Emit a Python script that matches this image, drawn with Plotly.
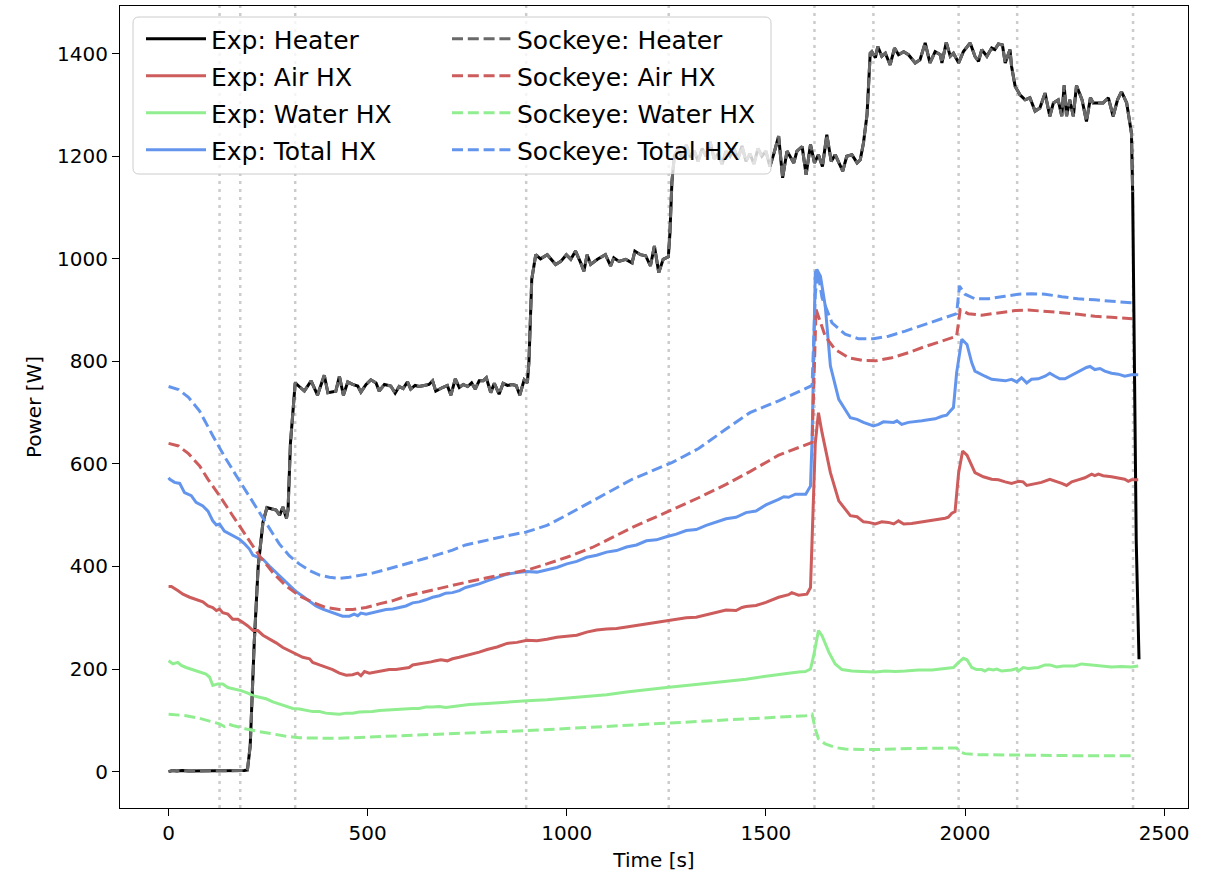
import plotly.graph_objects as go

# ---------------- data ----------------
exp_heater_t = [0, 10, 20, 35, 50, 70, 90, 110, 130, 150, 170, 190, 198, 205, 215, 225, 237, 247, 260, 270, 279, 287, 296, 300, 306, 312,
                318, 328, 341, 358, 374, 391, 400, 420, 429, 439, 450, 462, 475, 483, 496, 508, 521, 529, 542, 558, 569, 579, 589, 600,
                608, 619, 629, 642, 654, 663, 671, 688, 700, 709, 720, 730, 740, 751, 761, 770, 780, 790, 798, 809, 818, 830, 840, 851,
                863, 873, 882, 893, 901, 905, 912, 922, 934, 951, 972, 985, 999, 1010, 1022, 1035, 1043, 1051, 1060, 1077, 1097, 1110,
                1118, 1131, 1148, 1164, 1171, 1185, 1198, 1210, 1220, 1231, 1242, 1255, 1259, 1264, 1270,
                1280, 1290, 1300, 1310, 1320, 1330, 1340, 1350, 1360, 1370, 1380, 1390, 1400, 1410, 1420, 1430, 1440, 1450, 1460, 1470,
                1480, 1490, 1500, 1510, 1520, 1532, 1542, 1553, 1570, 1578, 1591, 1601, 1612, 1622, 1632, 1642, 1653, 1664, 1674, 1693,
                1703, 1716, 1729, 1737, 1745, 1754, 1762, 1766, 1775, 1781, 1791, 1800, 1812, 1823, 1833, 1846, 1858, 1875, 1887, 1900,
                1912, 1925, 1938, 1942, 1953, 1963, 1971, 1984, 1996, 2013, 2025, 2034, 2042, 2055, 2067, 2075, 2084, 2094, 2101, 2113,
                2117, 2126, 2138, 2151, 2163, 2176, 2188, 2201, 2213, 2222, 2234, 2243, 2249, 2255, 2263, 2272, 2280, 2294, 2305, 2315,
                2322, 2335, 2347, 2360, 2372, 2383, 2393, 2406, 2414, 2418, 2421, 2425, 2430, 2437]
exp_heater_p = [0, 2, 1, 2, 1, 1, 1, 2, 2, 1, 2, 2, 3, 50, 250, 400, 486, 515, 512, 510, 500, 516, 494, 510, 640, 700,
                758, 751, 742, 762, 734, 773, 739, 742, 771, 734, 760, 755, 752, 740, 755, 764, 758, 742, 755, 752, 738, 751, 747, 760,
                746, 753, 751, 753, 755, 762, 742, 749, 753, 734, 766, 749, 755, 751, 758, 746, 762, 762, 768, 739, 757, 736, 757, 753,
                755, 753, 734, 764, 758, 800, 960, 1008, 1000, 1008, 989, 995, 1008, 999, 1015, 992, 976, 1008, 989, 999, 1008, 986,
                1002, 995, 999, 992, 1015, 1008, 1006, 986, 1025, 973, 999, 1004, 1050, 1150, 1200,
                1215, 1195, 1222, 1198, 1210, 1190, 1215, 1200, 1228, 1195, 1205, 1185, 1210, 1200, 1215, 1195, 1220, 1190, 1205, 1185,
                1215, 1200, 1210, 1180, 1205, 1239, 1158, 1210, 1187, 1210, 1219, 1164, 1223, 1187, 1203, 1180, 1242, 1190, 1203, 1171,
                1200, 1203, 1187, 1193, 1226, 1281, 1401, 1404, 1392, 1414, 1395, 1401, 1378, 1411, 1398, 1404, 1398, 1382, 1388, 1421,
                1382, 1404, 1398, 1382, 1422, 1395, 1401, 1382, 1404, 1421, 1395, 1385, 1408, 1395, 1411, 1408, 1419, 1417, 1382, 1408,
                1375, 1336, 1320, 1310, 1314, 1288, 1294, 1323, 1278, 1304, 1310, 1278, 1338, 1278, 1310, 1278, 1338, 1310, 1268, 1314,
                1304, 1304, 1304, 1314, 1278, 1310, 1326, 1304, 1268, 1245, 1130, 800, 450, 219]

exp_air_t = [0, 7, 23, 36, 53, 69, 86, 99, 111, 120, 128, 136, 149, 161, 174, 186, 199, 212, 224, 237, 253, 270, 287, 303, 320,
             337, 354, 362, 379, 395, 412, 429, 446, 462, 475, 483, 492, 504, 521, 537, 554, 571, 588, 604, 613, 629, 646, 659, 671,
             684, 700, 713, 730, 746, 755, 780, 800, 825, 850, 875, 900, 925, 950, 975, 1000, 1025, 1050, 1075, 1100, 1125, 1150,
             1175, 1200, 1225, 1250, 1275, 1300, 1325, 1350, 1375, 1400, 1425, 1440, 1450, 1475, 1500,
             1532, 1557, 1565, 1582, 1603, 1612, 1616, 1624, 1632, 1641, 1662, 1683, 1712, 1729, 1745, 1758, 1775, 1791, 1808, 1821,
             1833, 1846, 1866, 1883, 1900, 1917, 1933, 1950, 1958, 1967, 1975, 1984, 1994, 2005, 2025, 2046, 2067, 2084, 2101, 2117,
             2134, 2146, 2155, 2167, 2192, 2213, 2226, 2243, 2255, 2268, 2284, 2301, 2318, 2326, 2335, 2347, 2368, 2385, 2401, 2410,
             2418, 2435]
exp_air_p = [361, 361, 353, 346, 340, 335, 331, 323, 320, 314, 317, 310, 307, 297, 297, 291, 284, 275, 275, 266, 259, 251, 242, 236, 229,
             223, 220, 213, 208, 203, 199, 192, 188, 189, 192, 187, 195, 192, 194, 197, 199, 199, 201, 203, 208, 210, 211, 214, 216,
             218, 216, 220, 223, 226, 229, 233, 238, 243, 250, 252, 256, 255, 258, 262, 264, 266, 272, 276, 278, 279, 282,
             285, 288, 290, 293, 297, 300, 301, 306, 310, 315, 314, 320, 322, 324, 330,
             340, 345, 349, 344, 346, 359, 453, 640, 700, 661, 583, 528, 499, 497, 487, 486, 483, 487, 486, 483,
             489, 483, 484, 486, 487, 489, 492, 494, 496, 504, 507, 583, 625, 617, 583, 575, 570, 569, 565, 562,
             566, 565, 558, 560, 564, 570, 567, 562, 558, 565, 569, 573, 580, 577, 580, 577, 575, 573, 570, 566,
             569, 569]

exp_water_t = [0, 11, 23, 32, 44, 57, 78, 94, 103, 111, 124, 136, 149, 166, 182, 199, 212, 228, 245, 262, 278, 295, 312, 329, 345,
               362, 379, 395, 412, 429, 446, 462, 479, 496, 512, 529, 546, 563, 579, 596, 613, 629, 646, 663, 680, 696, 713, 730, 746,
               755, 800, 850, 900, 950, 1000, 1050, 1100, 1150, 1200, 1250, 1300, 1350, 1400, 1450, 1500, 1532, 1557, 1582, 1599,
               1612, 1620, 1632, 1641, 1658, 1674, 1691, 1716, 1741, 1775, 1800, 1825, 1850, 1883, 1917, 1950, 1971, 1984, 1996, 2005,
               2017, 2029, 2042, 2050, 2059, 2071, 2080, 2092, 2117, 2130, 2134, 2146, 2159, 2184, 2201, 2213, 2230, 2247, 2276, 2293,
               2318, 2343, 2368, 2393, 2418, 2435]
exp_water_p = [216, 210, 213, 207, 203, 200, 194, 190, 184, 168, 171, 171, 164, 161, 158, 153, 148, 145, 142, 136, 132, 127, 123, 122, 119,
               117, 117, 114, 113, 112, 114, 114, 116, 116, 117, 119, 120, 121, 122, 122, 123, 123, 126, 126, 127, 125, 127, 129, 131,
               131, 133, 136, 138, 140, 143, 147, 150, 155, 160, 164, 168, 172, 176, 180, 186, 190, 192, 194, 195,
               200, 226, 275, 265, 233, 210, 199, 196, 195, 194, 196, 195, 196, 198, 198, 201, 203, 213, 221, 218,
               203, 199, 199, 196, 200, 198, 200, 196, 198, 201, 196, 203, 201, 203, 208, 208, 204, 206, 206, 210,
               208, 206, 204, 205, 204, 206]

exp_total_t = [0, 3, 15, 28, 40, 57, 69, 86, 99, 111, 120, 128, 140, 153, 166, 178, 191, 203, 212, 224, 237, 253, 270, 287, 303,
               320, 337, 354, 370, 387, 404, 420, 437, 454, 466, 475, 483, 496, 512, 529, 546, 563, 579, 596, 613, 629, 646, 663, 680,
               696, 713, 730, 746, 755, 780, 800, 825, 850, 875, 900, 925, 950, 975, 1000, 1025, 1050, 1075, 1100, 1125, 1150,
               1175, 1200, 1225, 1250, 1275, 1300, 1325, 1350, 1375, 1400, 1425, 1450, 1475, 1500, 1532,
               1545, 1557, 1574, 1600, 1612, 1616, 1620, 1624, 1628, 1637, 1649, 1662, 1683, 1712, 1729, 1745, 1770, 1783, 1795, 1808,
               1821, 1829, 1841, 1858, 1875, 1892, 1908, 1925, 1942, 1954, 1963, 1971, 1979, 1992, 2005, 2017, 2025, 2038, 2050, 2067,
               2084, 2101, 2117, 2130, 2142, 2155, 2167, 2184, 2201, 2213, 2226, 2238, 2251, 2263, 2280, 2293, 2305, 2314, 2326, 2339,
               2351, 2368, 2385, 2401, 2418, 2435]
exp_total_p = [573, 570, 564, 562, 544, 538, 525, 518, 508, 489, 481, 483, 469, 463, 457, 453, 444, 434, 422, 418, 414, 401, 388, 375, 362,
               351, 342, 333, 323, 317, 312, 307, 303, 303, 307, 304, 309, 307, 310, 312, 316, 317, 320, 323, 329, 331, 335, 340, 343,
               348, 349, 353, 359, 361, 366, 372, 378, 385, 388, 390, 389, 393, 398, 405, 410, 418, 422, 428, 431, 438,
               442, 450, 452, 458, 463, 470, 472, 480, 486, 493, 496, 505, 508, 520, 531,
               536, 535, 541, 541, 557, 648, 843, 973, 979, 966, 908, 791, 726, 690, 687, 681, 674, 677, 682, 681,
               681, 684, 677, 681, 682, 684, 686, 688, 693, 695, 703, 710, 778, 843, 833, 797, 781, 775, 771, 765,
               764, 762, 765, 760, 768, 758, 765, 766, 771, 777, 771, 766, 766, 771, 778, 783, 788, 790, 784, 786,
               781, 777, 775, 771, 774, 774]

sock_total_t = [0, 25, 50, 78, 111, 140, 170, 203, 228, 253, 278, 303, 328, 354, 379, 404, 429, 454, 479, 512, 546, 579, 613, 646, 680,
                713, 746, 800, 850, 897, 950, 997, 1081, 1164, 1265, 1331, 1400, 1460, 1532, 1616, 1624, 1630, 1641, 1666, 1699, 1733,
                1770, 1808, 1850, 1892, 1933, 1979, 1986, 2000, 2025, 2059, 2100, 2134, 2167, 2201, 2243, 2284, 2326, 2368, 2420]
sock_total_p = [751, 745, 730, 703, 655, 615, 577, 536, 505, 473, 444, 421, 405, 392, 383, 379, 377, 379, 382, 387, 394, 401, 409, 416, 424,
                432, 442, 452, 460, 467, 480, 499, 534, 570, 603, 630, 668, 700, 723, 753, 930, 976, 924, 875, 853, 844,
                844, 849, 859, 870, 882, 893, 947, 931, 922, 922, 927, 931, 932, 931, 926, 922, 920, 917, 914]

sock_air_t = [0, 25, 50, 78, 99, 128, 161, 195, 228, 262, 295, 328, 362, 395, 429, 462, 496, 529, 562, 596, 629, 663, 696, 746, 800,
              850, 900, 950, 1000, 1064, 1164, 1248, 1331, 1400, 1460, 1532, 1616, 1626, 1649, 1674, 1708, 1741, 1775, 1816, 1858,
              1900, 1942, 1979, 1988, 2008, 2042, 2084, 2126, 2159, 2201, 2243, 2284, 2326, 2368, 2420]
sock_air_p = [640, 635, 620, 596, 570, 538, 499, 460, 421, 388, 362, 343, 330, 320, 316, 316, 320, 327, 333, 342, 348, 355, 361, 369, 378,
              386, 393, 405, 418, 437, 476, 505, 534, 560, 585, 617, 642, 901, 849, 823, 807, 802, 801, 807, 817,
              829, 840, 849, 901, 893, 890, 895, 899, 900, 898, 895, 892, 888, 886, 883]

sock_water_t = [0, 44, 78, 111, 128, 140, 149, 161, 195, 228, 262, 295, 328, 362, 395, 429, 462, 496, 529, 562, 596, 629, 663, 696, 730,
                755, 900, 1000, 1100, 1200, 1300, 1400, 1500, 1600, 1616, 1624, 1632, 1649, 1674, 1699, 1741, 1783, 1866, 1950, 1979,
                1988, 2000, 2034, 2117, 2201, 2284, 2368, 2420]
sock_water_p = [112, 109, 104, 97, 93, 88, 93, 90, 83, 78, 73, 69, 66, 65, 65, 65, 66, 67, 68, 70, 71, 72, 73, 74, 75,
                76, 80, 84, 88, 92, 96, 100, 105, 109, 112, 83, 64, 54, 47, 44, 43, 43, 45, 46, 46,
                38, 35, 33, 32, 32, 31, 31, 31]

# Sockeye heater input follows the measured heater power until the simulation ends (~2421 s)
sock_end = 2421
sock_heater_t = [t for t in exp_heater_t if t <= sock_end]
sock_heater_p = exp_heater_p[:len(sock_heater_t)]

event_times = [128, 180, 318, 898, 1256, 1622, 1770, 1984, 2131, 2422]

x_ticks = [0, 500, 1000, 1500, 2000, 2500]
y_ticks = [0, 200, 400, 600, 800, 1000, 1200, 1400]

series = [
    ("Exp: Heater", exp_heater_t, exp_heater_p, "#000000", "solid", "legend"),
    ("Exp: Air HX", exp_air_t, exp_air_p, "#CD5C5C", "solid", "legend"),
    ("Exp: Water HX", exp_water_t, exp_water_p, "#90EE90", "solid", "legend"),
    ("Exp: Total HX", exp_total_t, exp_total_p, "#6495ED", "solid", "legend"),
    ("Sockeye: Heater", sock_heater_t, sock_heater_p, "#696969", "11px,4.8px", "legend2"),
    ("Sockeye: Air HX", sock_air_t, sock_air_p, "#CD5C5C", "11px,4.8px", "legend2"),
    ("Sockeye: Water HX", sock_water_t, sock_water_p, "#90EE90", "11px,4.8px", "legend2"),
    ("Sockeye: Total HX", sock_total_t, sock_total_p, "#6495ED", "11px,4.8px", "legend2"),
]

FONT = "DejaVu Sans"
W, H = 1217, 875
ML, MR, MT, MB = 120, 29, 6, 67
PW, PH = W - ML - MR, H - MT - MB

fig = go.Figure()
for i, (name, tx, py, col, dash, lg) in enumerate(series):
    fig.add_trace(go.Scatter(x=tx, y=py, mode="lines", name=name,
                             line=dict(color=col, width=3, dash=dash),
                             legend=lg, legendgroup=name, showlegend=True))

shapes = []
for et in event_times:
    shapes.append(dict(type="line", xref="x", yref="paper", x0=et, x1=et, y0=0, y1=1,
                       line=dict(color="#cccccc", width=2.5, dash="3px,5px"), layer="below"))

# legend frame (rounded, semi transparent like matplotlib's)
def px2paper(px, py):
    return (px - ML) / PW, (H - MB - py) / PH

lx0, ly0 = px2paper(133, 174)
lx1, ly1 = px2paper(771, 17)
rx, ry = 6 / PW, 6 / PH
path = (f"M{lx0+rx},{ly0} L{lx1-rx},{ly0} Q{lx1},{ly0} {lx1},{ly0+ry} L{lx1},{ly1-ry} Q{lx1},{ly1} {lx1-rx},{ly1} "
        f"L{lx0+rx},{ly1} Q{lx0},{ly1} {lx0},{ly1-ry} L{lx0},{ly0+ry} Q{lx0},{ly0} {lx0+rx},{ly0} Z")
shapes.append(dict(type="path", xref="paper", yref="paper", path=path,
                   fillcolor="rgba(255,255,255,0.8)", line=dict(color="#cccccc", width=1), layer="above"))

leg_common = dict(bgcolor="rgba(0,0,0,0)", borderwidth=0, font=dict(family=FONT, size=25, color="#000000"),
                  xanchor="left", yanchor="top", tracegroupgap=1.5, itemwidth=60)
lgx1, lgy = px2paper(141, 16)
lgx2, _ = px2paper(447, 16)

fig.update_layout(
    width=W, height=H,
    margin=dict(l=ML, r=MR, t=MT, b=MB),
    paper_bgcolor="white", plot_bgcolor="white",
    font=dict(family=FONT, size=20, color="#000000"),
    shapes=shapes,
    legend=dict(x=lgx1, y=lgy, **leg_common),
    legend2=dict(x=lgx2, y=lgy, **leg_common),
    xaxis=dict(range=[-122, 2560], tickvals=x_ticks, ticks="outside", ticklen=7, tickwidth=1, tickcolor="black",
               showline=True, linecolor="black", linewidth=1, mirror=True, showgrid=False, zeroline=False,
               tickfont=dict(size=20), title=dict(text="Time [s]", font=dict(size=20), standoff=8)),
    yaxis=dict(range=[-71, 1493], tickvals=y_ticks, ticks="outside", ticklen=7, tickwidth=1, tickcolor="black",
               showline=True, linecolor="black", linewidth=1, mirror=True, showgrid=False, zeroline=False,
               tickfont=dict(size=20), title=dict(text="Power [W]", font=dict(size=20), standoff=10)),
)

fig.write_html("out.html")
